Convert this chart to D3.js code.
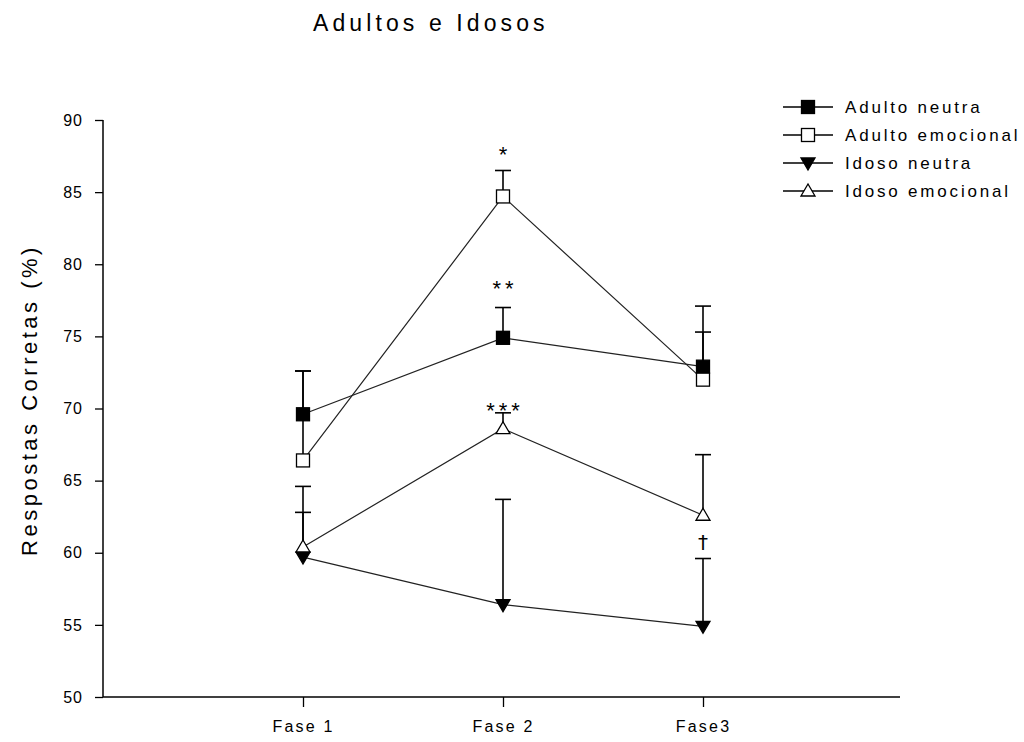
<!DOCTYPE html>
<html>
<head>
<meta charset="utf-8">
<script src="https://cdn.jsdelivr.net/npm/d3@7"></script>
<style>
  html, body { margin: 0; padding: 0; background: #fff; }
  svg { display: block; font-family: "Liberation Sans", Arial, sans-serif; }
</style>
</head>
<body>
<svg id="chart" width="1024" height="742"></svg>
<script>
// Phases on the x axis
const phases = ["Fase 1", "Fase 2", "Fase3"];
const yTicks = [50, 55, 60, 65, 70, 75, 80, 85, 90];

// Mean correct responses (%) and upper error (SE) per phase
const adultoNeutra = [69.6, 74.9, 72.9];
const adultoNeutraErr = [3.0, 2.1, 2.4];
const adultoEmocional = [66.4, 84.7, 72.0];
const adultoEmocionalErr = [6.2, 1.8, 5.1];
const idosoNeutra = [59.7, 56.4, 54.9];
const idosoNeutraErr = [3.1, 7.3, 4.7];
const idosoEmocional = [60.4, 68.6, 62.6];
const idosoEmocionalErr = [4.2, 1.1, 4.2];

// Significance marks: phase index, text, vertical position (value units)
const markPhase = [1, 1, 1, 2];
const markText = ["*", "**", "***", "\u2020"];
const markValue = [88.0, 78.7, 70.2, 60.7];

const series = [
  { name: "Adulto neutra", values: adultoNeutra, err: adultoNeutraErr, symbol: "square", fill: "#000" },
  { name: "Adulto emocional", values: adultoEmocional, err: adultoEmocionalErr, symbol: "square", fill: "#fff" },
  { name: "Idoso neutra", values: idosoNeutra, err: idosoNeutraErr, symbol: "triDown", fill: "#000" },
  { name: "Idoso emocional", values: idosoEmocional, err: idosoEmocionalErr, symbol: "triUp", fill: "#fff" }
];

const svg = d3.select("#chart");

const x = d3.scaleLinear().domain([0, 4]).range([103, 903]);
const y = d3.scaleLinear().domain([50, 90]).range([697, 120]);

// Marker drawing
function marker(g, type, fill) {
  if (type === "square") {
    g.append("rect").attr("x", -6.5).attr("y", -6.5).attr("width", 13).attr("height", 13)
      .attr("fill", fill).attr("stroke", "#000").attr("stroke-width", 1.3);
  } else if (type === "triDown") {
    g.append("path").attr("d", "M-7,-5 L7,-5 L0,7 Z")
      .attr("fill", fill).attr("stroke", "#000").attr("stroke-width", 1.3);
  } else {
    g.append("path").attr("d", "M-7,5 L7,5 L0,-7 Z")
      .attr("fill", fill).attr("stroke", "#000").attr("stroke-width", 1.3);
  }
}

// Title
svg.append("text").attr("x", 313).attr("y", 31)
  .attr("font-size", 23).attr("letter-spacing", 4.1).attr("fill", "#000")
  .text("Adultos e Idosos");

// Y axis
const yAxis = svg.append("g").attr("transform", `translate(${x(0)},0)`)
  .call(d3.axisLeft(y).tickValues(yTicks).tickSize(8).tickPadding(12));
yAxis.select(".domain").attr("stroke", "#000").attr("stroke-width", 1.5).attr("d", `M0,${y(90)}V${y(50)}`);
yAxis.selectAll(".tick line").attr("stroke", "#000").attr("stroke-width", 1.3);
yAxis.selectAll(".tick text").attr("font-size", 16).attr("letter-spacing", 1).attr("fill", "#000")
  .attr("font-family", "Liberation Sans, Arial, sans-serif");

// X axis
const xAxis = svg.append("g").attr("transform", `translate(0,${y(50)})`)
  .call(d3.axisBottom(x).tickValues([1, 2, 3]).tickFormat(d => phases[d - 1]).tickSize(10).tickPadding(14));
xAxis.select(".domain").attr("stroke", "#000").attr("stroke-width", 1.5).attr("d", `M${x(0)},0H900`);
xAxis.selectAll(".tick line").attr("stroke", "#000").attr("stroke-width", 1.3);
xAxis.selectAll(".tick text").attr("font-size", 16).attr("letter-spacing", 2.2).attr("fill", "#000")
  .attr("font-family", "Liberation Sans, Arial, sans-serif");

// Y axis title
svg.append("text")
  .attr("transform", `translate(37,400) rotate(-90)`)
  .attr("text-anchor", "middle")
  .attr("font-size", 22).attr("letter-spacing", 3.5).attr("fill", "#000")
  .text("Respostas Corretas (%)");

const plot = svg.append("g");

// Error bars (upper only)
series.forEach(s => {
  s.values.forEach((v, i) => {
    const cx = x(i + 1), top = y(v + s.err[i]);
    plot.append("line").attr("x1", cx).attr("x2", cx).attr("y1", y(v)).attr("y2", top)
      .attr("stroke", "#000").attr("stroke-width", 1.6);
    plot.append("line").attr("x1", cx - 8).attr("x2", cx + 8).attr("y1", top).attr("y2", top)
      .attr("stroke", "#000").attr("stroke-width", 1.6);
  });
});

// Connecting lines
const line = d3.line().x((d, i) => x(i + 1)).y(d => y(d));
series.forEach(s => {
  plot.append("path").attr("d", line(s.values)).attr("fill", "none")
    .attr("stroke", "#222").attr("stroke-width", 1.2);
});

// Markers
series.forEach(s => {
  s.values.forEach((v, i) => {
    const g = plot.append("g").attr("transform", `translate(${x(i + 1)},${y(v)})`);
    marker(g, s.symbol, s.fill);
  });
});

// Significance marks (glyph centred on the given value)
markText.forEach((t, i) => {
  const isDagger = t === "\u2020";
  const ls = t.length > 1 ? 4 : 0;
  svg.append("text").attr("x", x(markPhase[i] + 1) + ls / 2).attr("y", y(markValue[i]))
    .attr("text-anchor", "middle")
    .attr("font-family", isDagger ? "DejaVu Sans, sans-serif" : null)
    .attr("font-size", isDagger ? 20 : 22).attr("letter-spacing", ls)
    .attr("fill", "#000")
    .attr("dy", isDagger ? "0.32em" : "0.58em")
    .text(t);
});

// Legend
const legend = svg.append("g");
series.forEach((s, i) => {
  const ly = 107 + i * 28;
  legend.append("line").attr("x1", 783).attr("x2", 833).attr("y1", ly).attr("y2", ly)
    .attr("stroke", "#000").attr("stroke-width", 1.5);
  const g = legend.append("g").attr("transform", `translate(808,${ly})`);
  marker(g, s.symbol, s.fill);
  legend.append("text").attr("x", 845).attr("y", ly).attr("dominant-baseline", "central")
    .attr("font-size", 17).attr("letter-spacing", 2.8).attr("fill", "#000")
    .text(s.name);
});
</script>
</body>
</html>
